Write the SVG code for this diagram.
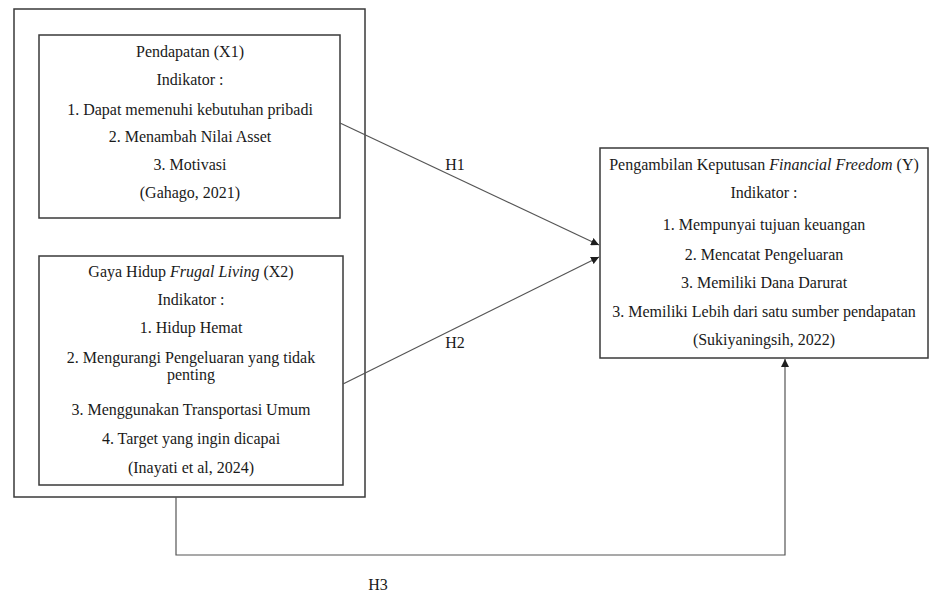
<svg xmlns="http://www.w3.org/2000/svg" width="937" height="597" viewBox="0 0 937 597">
<defs>
<style>
.box{fill:none;stroke:#3a3a3a;stroke-width:1.5}
.t{font-family:"Liberation Serif","Times New Roman",serif;font-size:16px;fill:#1a1a1a;text-anchor:middle}
.c{fill:none;stroke:#555;stroke-width:1.2}
</style>
<marker id="ah" viewBox="0 0 10 10" refX="10" refY="5" markerWidth="8" markerHeight="8" markerUnits="userSpaceOnUse" orient="auto"><path d="M0,0 L10,5 L0,10 Z" fill="#1e1e1e"/></marker>
</defs>
<rect width="937" height="597" fill="#fff"/>
<g id="outer"><rect class="box" x="14" y="9" width="351" height="488"/></g>
<g id="x1">
<rect class="box" x="39" y="35" width="301" height="183"/>
<text class="t" x="190" y="57">Pendapatan (X1)</text>
<text class="t" x="190" y="85">Indikator :</text>
<text class="t" x="190" y="115">1. Dapat memenuhi kebutuhan pribadi</text>
<text class="t" x="190" y="142">2. Menambah Nilai Asset</text>
<text class="t" x="190" y="170">3. Motivasi</text>
<text class="t" x="190" y="198">(Gahago, 2021)</text>
</g>
<g id="x2">
<rect class="box" x="39" y="256" width="304" height="229"/>
<text class="t" x="191" y="277">Gaya Hidup <tspan font-style="italic">Frugal Living</tspan> (X2)</text>
<text class="t" x="191" y="305">Indikator :</text>
<text class="t" x="191" y="333">1. Hidup Hemat</text>
<text class="t" x="191" y="363">2. Mengurangi Pengeluaran yang tidak</text>
<text class="t" x="191" y="380">penting</text>
<text class="t" x="191" y="415">3. Menggunakan Transportasi Umum</text>
<text class="t" x="191" y="444">4. Target yang ingin dicapai</text>
<text class="t" x="191" y="473">(Inayati et al, 2024)</text>
</g>
<g id="y">
<rect class="box" x="600" y="148" width="328" height="210"/>
<text class="t" x="764" y="170">Pengambilan Keputusan <tspan font-style="italic">Financial Freedom</tspan> (Y)</text>
<text class="t" x="764" y="198">Indikator :</text>
<text class="t" x="764" y="230">1. Mempunyai tujuan keuangan</text>
<text class="t" x="764" y="260">2. Mencatat Pengeluaran</text>
<text class="t" x="764" y="288">3. Memiliki Dana Darurat</text>
<text class="t" x="764" y="317">3. Memiliki Lebih dari satu sumber pendapatan</text>
<text class="t" x="764" y="345">(Sukiyaningsih, 2022)</text>
</g>
<g id="connectors">
<line class="c" x1="340" y1="123" x2="599" y2="245" marker-end="url(#ah)"/>
<line class="c" x1="343" y1="384" x2="599" y2="257" marker-end="url(#ah)"/>
<polyline class="c" points="176,497 176,555 785,555 785,359" marker-end="url(#ah)"/>
<text class="t" x="455" y="170">H1</text>
<text class="t" x="455" y="348">H2</text>
<text class="t" x="378" y="590">H3</text>
</g>
</svg>
